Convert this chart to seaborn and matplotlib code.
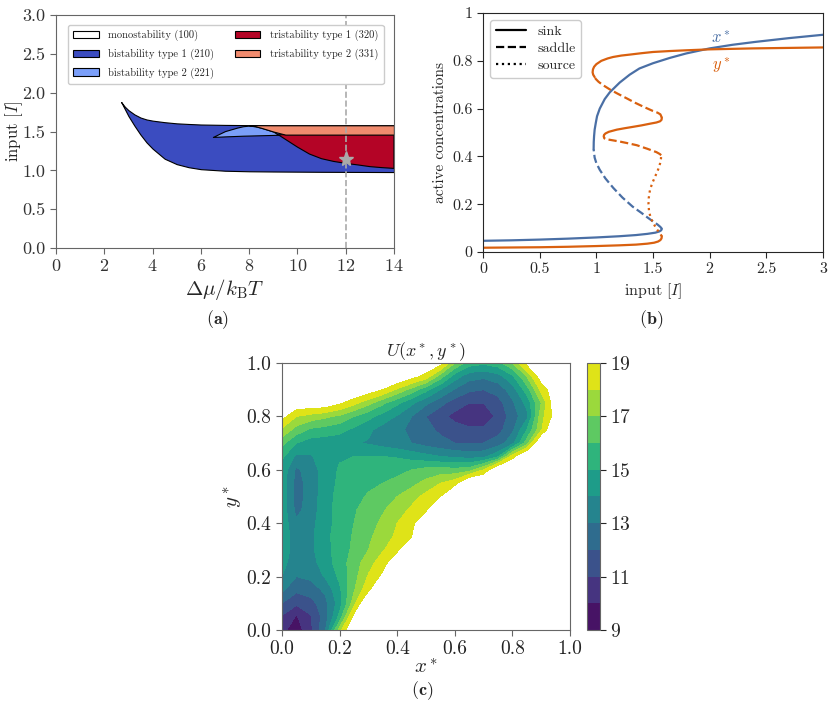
import numpy as np
import matplotlib.pyplot as plt
import seaborn as sns
from matplotlib.patches import Patch
from matplotlib.lines import Line2D
from matplotlib.ticker import FuncFormatter

sns.set_style('ticks')
plt.rcParams['font.family'] = ['cmr10', 'DejaVu Serif']
plt.rcParams['mathtext.fontset'] = 'cm'
plt.rcParams['axes.formatter.use_mathtext'] = True
plt.rcParams['axes.unicode_minus'] = False

# ---- (a) phase diagram boundaries ----
bx = [2.7, 2.85, 3.0, 3.25, 3.5, 3.75, 4.0, 4.5, 5.0, 5.5, 6.0, 7.0, 8.0, 9.0, 10.0, 11.0, 12.0, 13.0, 14.0]
b_upper = [1.88, 1.82, 1.775, 1.72, 1.68, 1.655, 1.64, 1.62, 1.605, 1.597, 1.59, 1.585, 1.582, 1.58,
           1.58, 1.58, 1.58, 1.58, 1.58]
b_lower = [1.88, 1.79, 1.70, 1.575, 1.46, 1.36, 1.28, 1.15, 1.08, 1.04, 1.015, 0.995, 0.988, 0.985,
           0.983, 0.981, 0.98, 0.979, 0.978]

hx = [6.5, 7.0, 7.5, 7.75, 8.0, 8.25, 8.5, 9.0, 9.5, 10.0, 10.5, 11.0, 11.5, 12.0, 12.5, 13.0, 13.5, 14.0]
hump = [1.43, 1.505, 1.55, 1.568, 1.576, 1.568, 1.548, 1.50, 1.40, 1.30, 1.21, 1.15, 1.115, 1.09, 1.07, 1.048, 1.035, 1.025]
tri_line = [1.43, 1.437, 1.443, 1.446, 1.448, 1.45, 1.452, 1.456, 1.46, 1.46, 1.46, 1.46, 1.46, 1.46, 1.46, 1.46, 1.46, 1.46]
h_top = [1.587, 1.585, 1.583, 1.583, 1.582, 1.582, 1.581, 1.58, 1.58, 1.58, 1.58, 1.58, 1.58, 1.58, 1.58, 1.58, 1.58, 1.58]

region_labels = ['monostability (100)', 'bistability type 1 (210)', 'bistability type 2 (221)',
                 'tristability type 1 (320)', 'tristability type 2 (331)']
region_colors = ['#ffffff', '#3b4cc0', '#7b9ff9', '#b40426', '#f08b6e']
star_x, star_y = 12.0, 1.15

# ---- (b) steady states vs input ----
xs_sink_lo_I = [0, 0.25, 0.5, 0.75, 1.0, 1.2, 1.35, 1.45, 1.52, 1.555, 1.572, 1.578]
xs_sink_lo = [0.047, 0.049, 0.052, 0.056, 0.061, 0.066, 0.071, 0.076, 0.081, 0.086, 0.091, 0.097]
xs_saddle_I = [1.578, 1.565, 1.54, 1.5, 1.45, 1.4, 1.32, 1.23, 1.15, 1.08, 1.03, 1.0, 0.985, 0.976]
xs_saddle = [0.097, 0.105, 0.115, 0.128, 0.145, 0.163, 0.19, 0.228, 0.268, 0.308, 0.344, 0.372, 0.395, 0.43]
xs_sink_hi_I = [0.976, 0.977, 0.98, 0.985, 0.995, 1.006, 1.03, 1.074, 1.118, 1.206, 1.294, 1.38, 1.5,
                1.647, 1.794, 2.0, 2.2, 2.4, 2.7, 3.0]
xs_sink_hi = [0.43, 0.46, 0.485, 0.512, 0.54, 0.568, 0.60, 0.64, 0.668, 0.709, 0.742, 0.768, 0.79,
              0.812, 0.831, 0.852, 0.867, 0.879, 0.895, 0.909]

ys_sink_lo_I = [0, 0.25, 0.5, 0.75, 1.0, 1.2, 1.35, 1.45, 1.51, 1.545, 1.565, 1.575, 1.578]
ys_sink_lo = [0.018, 0.019, 0.020, 0.022, 0.025, 0.028, 0.031, 0.035, 0.039, 0.044, 0.05, 0.057, 0.066]
ys_source_I = [1.578, 1.56, 1.535, 1.505, 1.48, 1.465, 1.46, 1.462, 1.474, 1.495, 1.518, 1.545, 1.562, 1.57, 1.572]
ys_source = [0.066, 0.078, 0.095, 0.118, 0.142, 0.17, 0.2, 0.225, 0.262, 0.29, 0.315, 0.345, 0.37, 0.39, 0.405]
ys_saddle1_I = [1.572, 1.56, 1.53, 1.45, 1.356, 1.28, 1.209, 1.15, 1.1, 1.07]
ys_saddle1 = [0.405, 0.41, 0.418, 0.432, 0.447, 0.455, 0.462, 0.467, 0.471, 0.476]
ys_sink_mid_I = [1.07, 1.065, 1.068, 1.08, 1.11, 1.18, 1.25, 1.326, 1.4, 1.474, 1.53, 1.562, 1.575, 1.578]
ys_sink_mid = [0.476, 0.484, 0.49, 0.496, 0.503, 0.512, 0.518, 0.524, 0.53, 0.537, 0.542, 0.547, 0.553, 0.562]
ys_saddle2_I = [1.578, 1.565, 1.54, 1.5, 1.415, 1.34, 1.268, 1.19, 1.12, 1.06, 1.02, 0.995, 0.985]
ys_saddle2 = [0.562, 0.576, 0.583, 0.59, 0.608, 0.625, 0.643, 0.662, 0.68, 0.698, 0.712, 0.724, 0.732]
ys_sink_hi_I = [0.985, 0.972, 0.967, 0.97, 0.98, 1.0, 1.044, 1.1, 1.147, 1.22, 1.294, 1.4, 1.5, 1.65,
                1.79, 2.0, 2.38, 3.0]
ys_sink_hi = [0.732, 0.742, 0.752, 0.764, 0.775, 0.786, 0.8, 0.81, 0.816, 0.822, 0.826, 0.832, 0.837,
              0.841, 0.844, 0.848, 0.852, 0.856]

# ---- (c) potential landscape U(x*, y*), rows y = 0.00 ... 1.00, cols x = 0.00 ... 1.00 ----
E = 21.0
U_rows = [
    [10.3, 9.4, 10.8, 12.9, 17.5] + [E] * 16,
    [10.9, 9.9, 10.9, 12.5, 15.3, 19.5] + [E] * 15,
    [12.0, 11.2, 11.6, 12.7, 14.5, 17.6] + [E] * 15,
    [13.2, 12.2, 12.5, 13.2, 14.8, 16.9, 18.8] + [E] * 14,
    [14.0, 13.0, 13.2, 14.1, 15.2, 16.6, 18.1, 19.3] + [E] * 13,
    [14.3, 13.4, 13.6, 14.5, 15.5, 16.5, 17.6, 18.6, 20.0] + [E] * 12,
    [14.5, 13.6, 13.8, 14.6, 15.5, 16.2, 17.0, 17.9, 18.8] + [E] * 12,
    [14.6, 13.5, 13.8, 14.7, 15.5, 16.1, 16.8, 17.5, 18.2, 19.0] + [E] * 11,
    [14.6, 13.2, 13.7, 14.6, 15.4, 16.0, 16.6, 17.2, 18.0, 18.8, 19.8] + [E] * 10,
    [14.6, 12.7, 13.5, 14.6, 15.4, 15.9, 16.4, 16.9, 17.5, 18.2, 18.9] + [E] * 10,
    [14.6, 12.6, 13.4, 14.6, 15.3, 15.7, 16.1, 16.5, 17.0, 17.6, 18.3, 19.0] + [E] * 9,
    [14.6, 12.6, 13.4, 14.5, 15.2, 15.5, 15.8, 16.0, 16.3, 16.7, 17.3, 18.0, 18.6] + [E] * 8,
    [14.7, 12.8, 13.5, 14.5, 15.1, 15.3, 15.4, 15.5, 15.7, 16.0, 16.3, 16.4, 16.3, 16.5, 18.0] + [E] * 6,
    [15.2, 13.8, 13.9, 14.5, 14.9, 15.0, 15.0, 15.0, 14.9, 14.6, 14.3, 14.0, 13.8, 13.6, 13.7, 14.8, 18.6] + [E] * 4,
    [16.3, 15.0, 14.5, 14.4, 14.4, 14.1, 13.9, 13.6, 13.3, 13.0, 12.6, 12.3, 12.0, 11.9, 12.0, 12.5, 13.6, 16.5] + [E] * 3,
    [17.8, 16.6, 15.8, 15.6, 15.3, 14.8, 14.2, 13.6, 13.2, 12.8, 12.3, 11.8, 11.4, 11.2, 11.2, 11.6, 12.8, 15.0, 17.8] + [E] * 2,
    [19.5, 18.0, 17.6, 17.2, 16.8, 16.0, 15.3, 14.6, 13.9, 13.0, 12.0, 11.3, 10.7, 10.3, 10.4, 11.2, 12.5, 13.7, 17.6, 19.6, E],
    [E, 20.0, 20.0, 20.0, 19.2, 18.3, 17.3, 16.2, 15.2, 14.2, 13.2, 12.3, 11.5, 11.0, 11.0, 11.6, 12.8, 14.3, 17.0, 20.0, E],
    [E] * 5 + [20.5, 19.8, 19.0, 17.8, 16.6, 15.3, 14.0, 12.9, 12.2, 12.0, 12.4, 13.5, 15.5, 18.3, 20.0, E],
    [E] * 8 + [20.5, 19.6, 18.6, 16.5, 14.5, 13.4, 13.2, 13.6, 14.8, 17.0, 19.8, E, E],
    [E] * 10 + [20.3, 19.6, 17.0, 15.5, 15.2, 15.6, 17.0, 19.5, E, E, E],
]
grid_x = np.round(np.arange(21) * 0.05, 2)
grid_y = np.round(np.arange(21) * 0.05, 2)
U = np.array(U_rows)

blue = '#4a6fa5'
orange = '#d9600f'
frame_gray = '#666666'

fig = plt.figure(figsize=(8.38, 7.04), dpi=100)
ax_a = fig.add_axes([0.0668, 0.6477, 0.4033, 0.331])
ax_b = fig.add_axes([0.5764, 0.642, 0.4057, 0.3395])
ax_c = fig.add_axes([0.3365, 0.1051, 0.3437, 0.3793])
cax = fig.add_axes([0.7005, 0.1051, 0.0155, 0.3793])

# (a)
hx_a = np.array(hx)
hump_a = np.array(hump)
tri_a = np.array(tri_line)
ax_a.fill_between(bx, b_lower, b_upper, facecolor=region_colors[1], edgecolor='black', lw=0.8)
ax_a.fill_between(hx_a, tri_a, hump_a, where=hump_a >= tri_a, interpolate=True,
                  facecolor=region_colors[2], edgecolor='black', lw=0.8)
ax_a.fill_between(hx_a, hump_a, tri_a, where=hump_a <= tri_a, interpolate=True,
                  facecolor=region_colors[3], edgecolor='black', lw=0.8)
ax_a.fill_between(hx_a, np.maximum(hump_a, tri_a), h_top, where=hx_a >= 8.0,
                  facecolor=region_colors[4], edgecolor='black', lw=0.8)
ax_a.axvline(star_x, color='#aaaaaa', ls='--', lw=1.2)
ax_a.plot([star_x], [star_y], marker='*', ms=11, color='#aaaaaa', mec='#aaaaaa')
ax_a.set_xlim(0, 14)
ax_a.set_ylim(0, 3)
ax_a.set_xticks(np.arange(0, 15, 2))
ax_a.set_yticks(np.arange(0, 3.01, 0.5))
ax_a.yaxis.set_major_formatter(FuncFormatter(lambda v, p: f'{v:.1f}'))
ax_a.tick_params(labelsize=13, colors=frame_gray, labelcolor='#333333', length=4)
for s in ax_a.spines.values():
    s.set_color(frame_gray)
ax_a.set_xlabel(r'$\Delta\mu/k_{\mathrm{B}}T$', fontsize=15, labelpad=2)
ax_a.set_ylabel(r'input $[I]$', fontsize=12)
ax_a.yaxis.set_label_coords(-0.092, 0.5)
handles = [Patch(facecolor=c, edgecolor='black', lw=0.8) for c in region_colors]
ax_a.legend(handles, region_labels, ncol=2, fontsize=7.6, loc='upper left',
            bbox_to_anchor=(0.02, 0.98, 0.965, 0), mode='expand', handlelength=2.4,
            handletextpad=0.9, borderpad=0.5, labelspacing=0.7, framealpha=1,
            edgecolor='#cccccc')

# (b)
branches = [
    (xs_sink_lo_I, xs_sink_lo, blue, '-'), (xs_saddle_I, xs_saddle, blue, '--'),
    (xs_sink_hi_I, xs_sink_hi, blue, '-'),
    (ys_sink_lo_I, ys_sink_lo, orange, '-'), (ys_source_I, ys_source, orange, ':'),
    (ys_saddle1_I, ys_saddle1, orange, '--'), (ys_sink_mid_I, ys_sink_mid, orange, '-'),
    (ys_saddle2_I, ys_saddle2, orange, '--'), (ys_sink_hi_I, ys_sink_hi, orange, '-'),
]
for bI, bv, col, ls in branches:
    sns.lineplot(x=bI, y=bv, sort=False, estimator=None, color=col, linestyle=ls, lw=1.6, ax=ax_b)
ax_b.text(2.1, 0.9, r'$x^*$', color=blue, fontsize=12, ha='center', va='center')
ax_b.text(2.1, 0.78, r'$y^*$', color=orange, fontsize=12, ha='center', va='center')
ax_b.set_xlim(0, 3)
ax_b.set_ylim(0, 1)
ax_b.set_xticks(np.arange(0, 3.01, 0.5))
ax_b.set_yticks(np.arange(0, 1.01, 0.2))
fmt_g = FuncFormatter(lambda v, p: f'{v:g}')
ax_b.xaxis.set_major_formatter(fmt_g)
ax_b.yaxis.set_major_formatter(fmt_g)
ax_b.tick_params(labelsize=11.5, length=4)
ax_b.set_xlabel(r'input $[I]$', fontsize=11.5)
ax_b.set_ylabel('active concentrations', fontsize=11)
style_handles = [Line2D([], [], color='black', ls=ls, lw=1.6) for ls in ['-', '--', ':']]
ax_b.legend(style_handles, ['sink', 'saddle', 'source'], loc='upper left', fontsize=10,
            handlelength=2.2, framealpha=1, edgecolor='#cccccc', labelspacing=0.3)

# (c)
cs = ax_c.contourf(grid_x, grid_y, U, levels=np.arange(9, 20), cmap='viridis')
cb = fig.colorbar(cs, cax=cax, ticks=np.arange(9, 20, 2))
cb.ax.tick_params(labelsize=14, length=4)
cb.outline.set_edgecolor(frame_gray)
ax_c.set_xlim(0, 1)
ax_c.set_ylim(0, 1)
ax_c.set_xticks(np.arange(0, 1.01, 0.2))
ax_c.set_yticks(np.arange(0, 1.01, 0.2))
ax_c.xaxis.set_major_formatter(FuncFormatter(lambda v, p: f'{v:.1f}'))
ax_c.yaxis.set_major_formatter(FuncFormatter(lambda v, p: f'{v:.1f}'))
ax_c.tick_params(labelsize=14, colors=frame_gray, labelcolor='#222222', length=4)
for s in ax_c.spines.values():
    s.set_color(frame_gray)
ax_c.set_xlabel(r'$x^*$', fontsize=15, labelpad=0)
ax_c.set_ylabel(r'$y^*$', fontsize=15, labelpad=2)
ax_c.set_title(r'$U(x^*, y^*)$', fontsize=13, pad=3)

fig.text(0.26, 0.54, r'$\mathbf{(a)}$', ha='center', fontsize=13)
fig.text(0.777, 0.54, r'$\mathbf{(b)}$', ha='center', fontsize=13)
fig.text(0.5036, 0.012, r'$\mathbf{(c)}$', ha='center', fontsize=13)

fig.savefig('out.png', dpi=100)
